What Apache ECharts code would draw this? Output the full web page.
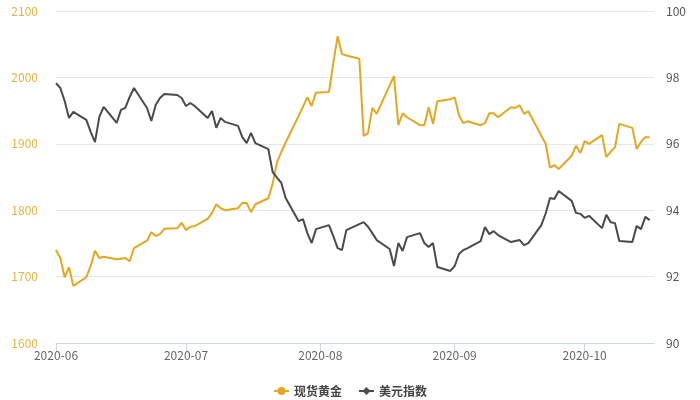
<!DOCTYPE html>
<html>
<head>
<meta charset="utf-8">
<script src="https://cdn.jsdelivr.net/npm/echarts@6/dist/echarts.min.js"></script>
<style>
  html, body { margin: 0; padding: 0; background: #fff; }
  #main { width: 700px; height: 400px; }
</style>
</head>
<body>
<div id="main"></div>
<script>
// 日期
var dates = [
    '2020-06-01', '2020-06-02', '2020-06-03', '2020-06-04', '2020-06-05',
    '2020-06-08', '2020-06-09', '2020-06-10', '2020-06-11', '2020-06-12',
    '2020-06-15', '2020-06-16', '2020-06-17', '2020-06-18', '2020-06-19',
    '2020-06-22', '2020-06-23', '2020-06-24', '2020-06-25', '2020-06-26',
    '2020-06-29', '2020-06-30', '2020-07-01', '2020-07-02', '2020-07-03',
    '2020-07-06', '2020-07-07', '2020-07-08', '2020-07-09', '2020-07-10',
    '2020-07-13', '2020-07-14', '2020-07-15', '2020-07-16', '2020-07-17',
    '2020-07-20', '2020-07-21', '2020-07-22', '2020-07-23', '2020-07-24',
    '2020-07-27', '2020-07-28', '2020-07-29', '2020-07-30', '2020-07-31',
    '2020-08-03', '2020-08-04', '2020-08-05', '2020-08-06', '2020-08-07',
    '2020-08-10', '2020-08-11', '2020-08-12', '2020-08-13', '2020-08-14',
    '2020-08-17', '2020-08-18', '2020-08-19', '2020-08-20', '2020-08-21',
    '2020-08-24', '2020-08-25', '2020-08-26', '2020-08-27', '2020-08-28',
    '2020-08-31', '2020-09-01', '2020-09-02', '2020-09-03', '2020-09-04',
    '2020-09-07', '2020-09-08', '2020-09-09', '2020-09-10', '2020-09-11',
    '2020-09-14', '2020-09-15', '2020-09-16', '2020-09-17', '2020-09-18',
    '2020-09-21', '2020-09-22', '2020-09-23', '2020-09-24', '2020-09-25',
    '2020-09-28', '2020-09-29', '2020-09-30', '2020-10-01', '2020-10-02',
    '2020-10-05', '2020-10-06', '2020-10-07', '2020-10-08', '2020-10-09',
    '2020-10-12', '2020-10-13', '2020-10-14', '2020-10-15', '2020-10-16'
];

// 现货黄金
var gold = [
    1740, 1728, 1699, 1714, 1686,
    1699, 1716, 1739, 1728, 1730,
    1726, 1727, 1728, 1723, 1743,
    1754, 1767, 1761, 1764, 1772,
    1773, 1781, 1770, 1775, 1776,
    1787, 1796, 1809, 1803, 1800,
    1803, 1811, 1811, 1797, 1809,
    1818, 1840, 1872, 1888, 1902,
    1942, 1956, 1970, 1957, 1977,
    1978, 2022, 2062, 2035, 2033,
    2028, 1912, 1916, 1954, 1945,
    1988, 2002, 1928, 1946, 1940,
    1928, 1928, 1955, 1930, 1964,
    1967, 1970, 1943, 1931, 1934,
    1928, 1931, 1946, 1946, 1940,
    1955, 1954, 1958, 1945, 1949,
    1912, 1900, 1864, 1868, 1862,
    1882, 1897, 1886, 1904, 1900,
    1913, 1880, 1888, 1895, 1930,
    1924, 1892, 1903, 1910, 1910
];

// 美元指数
var dxy = [
    97.83, 97.68, 97.29, 96.78, 96.96,
    96.72, 96.36, 96.05, 96.81, 97.11,
    96.63, 97.02, 97.08, 97.41, 97.68,
    97.08, 96.69, 97.17, 97.38, 97.50,
    97.47, 97.38, 97.14, 97.23, 97.14,
    96.78, 96.99, 96.48, 96.78, 96.66,
    96.54, 96.20, 96.02, 96.33, 96.02,
    95.84, 95.15, 94.98, 94.82, 94.37,
    93.67, 93.73, 93.31, 93.01, 93.43,
    93.55, 93.22, 92.86, 92.80, 93.40,
    93.58, 93.64, 93.50, 93.31, 93.10,
    92.83, 92.32, 93.01, 92.77, 93.19,
    93.31, 93.01, 92.89, 93.01, 92.29,
    92.17, 92.32, 92.68, 92.80, 92.86,
    93.07, 93.49, 93.28, 93.37, 93.25,
    93.04, 93.07, 93.10, 92.95, 93.01,
    93.55, 93.90, 94.37, 94.34, 94.58,
    94.28, 93.92, 93.89, 93.77, 93.83,
    93.46, 93.86, 93.64, 93.61, 93.07,
    93.04, 93.52, 93.43, 93.80, 93.70
];

// 横轴刻度
var monthTicks = ['2020-06-01', '2020-07-01', '2020-08-01', '2020-09-01', '2020-10-01'];

(function () {
    var chart = echarts.init(document.getElementById('main'));
    var goldColor = '#e3a820';
    var dxyColor = '#4a4a4a';
    var font = '"Noto Sans CJK SC", "Noto Sans", sans-serif';

    function toTime(s) {
        return Date.UTC(+s.slice(0, 4), +s.slice(5, 7) - 1, +s.slice(8, 10));
    }
    function pairs(vals) {
        return dates.map(function (d, i) { return [toTime(d), vals[i]]; });
    }
    var tickTimes = monthTicks.map(toTime);

    var option = {
        animation: false,
        textStyle: { fontFamily: font },
        grid: {
            left: 56,
            right: 46,
            top: 11,
            bottom: 57
        },
        legend: {
            top: 380,
            left: 'center',
            itemWidth: 15,
            itemHeight: 10,
            itemGap: 16,
            textStyle: { color: '#444', fontSize: 12, fontWeight: 'bold', fontFamily: font },
            data: ['现货黄金', '美元指数']
        },
        xAxis: {
            type: 'value',
            min: toTime('2020-06-01'),
            max: toTime('2020-10-17'),
            axisLine: { show: true, lineStyle: { color: '#ccd6eb' } },
            axisTick: {
                show: true,
                length: 8,
                customValues: tickTimes,
                lineStyle: { color: '#ccd6eb' }
            },
            axisLabel: {
                customValues: tickTimes,
                color: '#666',
                fontSize: 12,
                margin: 6,
                formatter: function (v) {
                    var d = new Date(v);
                    var m = d.getUTCMonth() + 1;
                    return d.getUTCFullYear() + '-' + (m < 10 ? '0' + m : m);
                }
            },
            splitLine: { show: false }
        },
        yAxis: [{
            type: 'value',
            min: 1600,
            max: 2100,
            interval: 100,
            axisLine: { show: false },
            axisTick: { show: false },
            axisLabel: {
                color: '#e6b33f',
                fontSize: 12,
                margin: 18,
                formatter: function (v) { return String(v); }
            },
            splitLine: { lineStyle: { color: '#e6e6e6' } }
        }, {
            type: 'value',
            min: 90,
            max: 100,
            interval: 2,
            axisLine: { show: false },
            axisTick: { show: false },
            axisLabel: { color: '#555', fontSize: 12, margin: 12 },
            splitLine: { show: false }
        }],
        series: [{
            name: '现货黄金',
            type: 'line',
            yAxisIndex: 0,
            symbol: 'circle',
            symbolSize: 7,
            showSymbol: false,
            color: goldColor,
            lineStyle: { width: 2, color: goldColor },
            data: pairs(gold)
        }, {
            name: '美元指数',
            type: 'line',
            yAxisIndex: 1,
            symbol: 'diamond',
            symbolSize: 6,
            showSymbol: false,
            color: dxyColor,
            lineStyle: { width: 2, color: dxyColor },
            data: pairs(dxy)
        }]
    };
    chart.setOption(option);
})();
</script>
</body>
</html>
